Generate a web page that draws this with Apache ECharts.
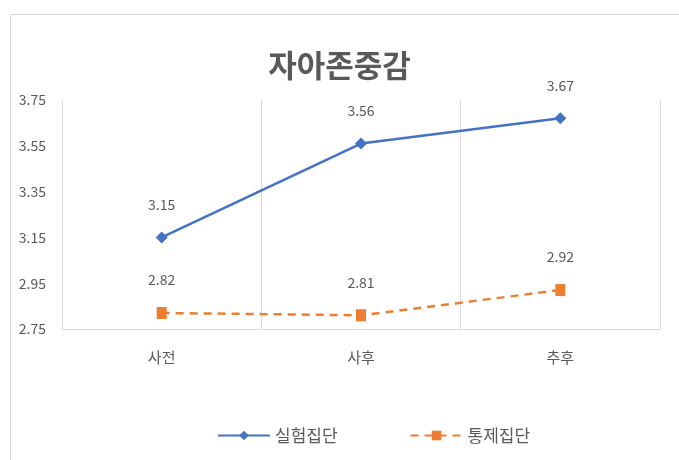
<!DOCTYPE html>
<html>
<head>
<meta charset="utf-8">
<script src="https://cdn.jsdelivr.net/npm/echarts@6/dist/echarts.min.js"></script>
<style>
  html, body { margin: 0; padding: 0; background: #fff; }
  #chart { width: 679px; height: 460px; }
</style>
</head>
<body>
<div id="chart"></div>
<script>
// Self-esteem scores by measurement time
const categories = ['사전', '사후', '추후'];
const experimentalGroup = [3.15, 3.56, 3.67];
const controlGroup = [2.82, 2.81, 2.92];
const seriesNames = ['실험집단', '통제집단'];
const yMin = 2.75, yMax = 3.75, yStep = 0.2;

const textColor = '#595959';
const fontFamily = '"Noto Sans CJK KR", "Noto Sans", sans-serif';

const chart = echarts.init(document.getElementById('chart'), null, { renderer: 'canvas' });

chart.setOption({
  backgroundColor: '#ffffff',
  animation: false,
  textStyle: { fontFamily: fontFamily, color: textColor },
  title: {
    text: '자아존중감',
    left: 'center',
    top: 45,
    textStyle: { fontSize: 31, fontWeight: 'bold', color: textColor, fontFamily: fontFamily }
  },
  graphic: [{
    type: 'rect',
    left: 8, top: 12,
    shape: { width: 700, height: 500 },
    style: { fill: 'none', stroke: '#d9d9d9', lineWidth: 1 },
    silent: true, z: -1
  }],
  legend: {
    bottom: 11,
    left: 212,
    itemGap: 72,
    itemWidth: 52,
    itemHeight: 12,
    textStyle: { fontSize: 17, color: textColor, fontFamily: fontFamily },
    data: seriesNames
  },
  grid: { left: 62, right: 19, top: 100, bottom: 131 },
  xAxis: {
    type: 'category',
    data: categories,
    boundaryGap: true,
    axisLine: { show: true, lineStyle: { color: '#d9d9d9', width: 1 } },
    axisTick: { show: false },
    axisLabel: { margin: 21, fontSize: 15, color: textColor, fontFamily: fontFamily },
    splitLine: { show: true, lineStyle: { color: '#d9d9d9', width: 1 } }
  },
  yAxis: {
    type: 'value',
    min: yMin, max: yMax, interval: yStep,
    axisLine: { show: false },
    axisTick: { show: false },
    splitLine: { show: false },
    axisLabel: {
      margin: 16, fontSize: 14, color: textColor, fontFamily: fontFamily,
      formatter: v => v.toFixed(2)
    }
  },
  series: [
    {
      name: seriesNames[0],
      type: 'line',
      data: experimentalGroup,
      symbol: 'diamond',
      symbolSize: 12,
      lineStyle: { color: '#4472C4', width: 2.5 },
      itemStyle: { color: '#4472C4' },
      label: {
        show: true, position: 'top', distance: 20,
        fontSize: 14, color: textColor, fontFamily: fontFamily,
        formatter: p => p.value.toFixed(2)
      }
    },
    {
      name: seriesNames[1],
      type: 'line',
      data: controlGroup,
      symbol: 'rect',
      symbolSize: [10, 12],
      lineStyle: { color: '#ED7D31', width: 2.5, type: [8, 6] },
      itemStyle: { color: '#ED7D31' },
      label: {
        show: true, position: 'top', distance: 20,
        fontSize: 14, color: textColor, fontFamily: fontFamily,
        formatter: p => p.value.toFixed(2)
      }
    }
  ]
});
</script>
</body>
</html>
